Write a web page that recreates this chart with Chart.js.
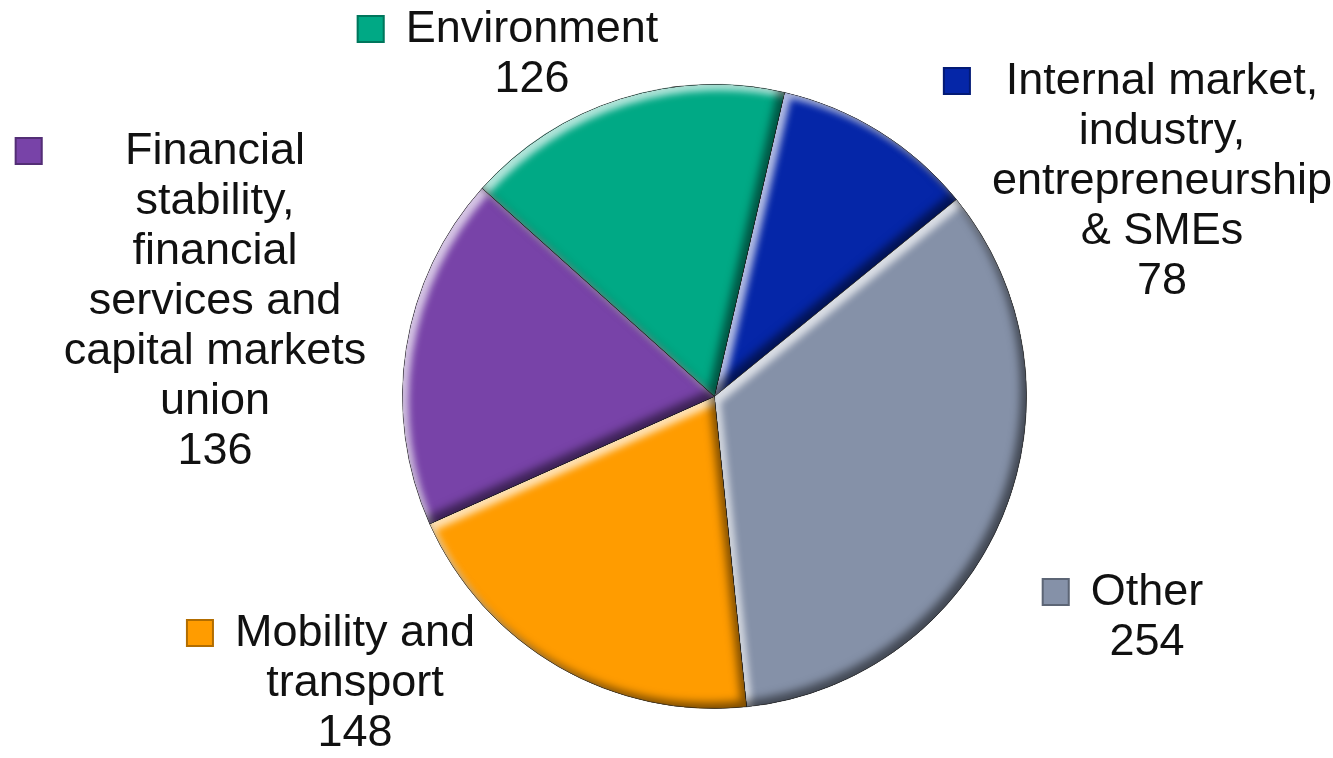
<!DOCTYPE html>
<html>
<head>
<meta charset="utf-8">
<script src="https://cdn.jsdelivr.net/npm/chart.js@4"></script>
<style>
  html, body { margin: 0; padding: 0; background: #fff; }
  #wrap { width: 1333px; height: 758px; }
</style>
</head>
<body>
<div id="wrap"><canvas id="pieChart" width="1333" height="758"></canvas></div>
<script>
// data, in drawing order (clockwise from the top)
const categories = [
    ['Internal market,', 'industry,', 'entrepreneurship', '& SMEs'],
    ['Other'],
    ['Mobility and', 'transport'],
    ['Financial', 'stability,', 'financial', 'services and', 'capital markets', 'union'],
    ['Environment']
];
const values = [78, 254, 148, 136, 126];
const colors = ['#0526a8', '#8591a8', '#ff9c00', '#7843a8', '#00a985'];

// where each text block sits: centre x, first line centre y
const labelSpots = [
    [1162, 82],
    [1147, 593],
    [355, 634],
    [215, 152],
    [532, 30]
];

// inner shadows give the slices their bevelled look
const bevel = {
    id: 'bevel',
    afterDatasetsDraw(chart) {
        const ctx = chart.ctx;
        chart.getDatasetMeta(0).data.forEach(function (arc) {
            const p = arc.getProps(['x', 'y', 'startAngle', 'endAngle', 'outerRadius']);
            const path = new Path2D();
            path.moveTo(p.x, p.y);
            path.arc(p.x, p.y, p.outerRadius, p.startAngle, p.endAngle);
            path.closePath();
            [['rgba(255,255,255,0.7)', 6, 7], ['rgba(0,0,0,0.5)', -6, 9]].forEach(function (s) {
                ctx.save();
                ctx.clip(path);
                const ring = new Path2D();
                ring.rect(-2000, -2000, 6000, 6000);
                ring.addPath(path);
                ctx.shadowColor = s[0];
                ctx.shadowBlur = s[2];
                ctx.shadowOffsetX = s[1];
                ctx.shadowOffsetY = s[1];
                ctx.fillStyle = '#000';
                ctx.fill(ring, 'evenodd');
                ctx.restore();
            });
        });
    }
};

// outside labels with a little colour key, like the office chart
const sliceLabels = {
    id: 'sliceLabels',
    afterDraw(chart) {
        const ctx = chart.ctx;
        const lineH = 50;
        ctx.save();
        ctx.font = '45px "Liberation Sans", Arial, sans-serif';
        ctx.textAlign = 'center';
        ctx.textBaseline = 'middle';
        chart.data.labels.forEach(function (lab, i) {
            const lines = lab.concat([String(chart.data.datasets[0].data[i])]);
            const cx = labelSpots[i][0];
            const y0 = labelSpots[i][1];
            let w = 0;
            ctx.fillStyle = '#111';
            lines.forEach(function (t) { w = Math.max(w, ctx.measureText(t).width); });
            lines.forEach(function (t, k) { ctx.fillText(t, cx, y0 + k * lineH); });

            // key square
            const size = 28;
            const kx = cx - w / 2 - 21 - size;
            const ky = y0 - 15;
            ctx.fillStyle = colors[i];
            ctx.fillRect(kx, ky, size, size);
            ctx.strokeStyle = 'rgba(0,0,0,0.3)';
            ctx.lineWidth = 2;
            ctx.strokeRect(kx + 1, ky + 1, size - 2, size - 2);
        });
        ctx.restore();
    }
};

const config = {
    type: 'pie',
    data: {
        labels: categories,
        datasets: [{
            data: values,
            backgroundColor: colors,
            borderColor: 'rgba(40, 40, 40, 0.45)',
            borderWidth: 1
        }]
    },
    options: {
        responsive: false,
        animation: false,
        rotation: 13,
        layout: { padding: { left: 402, right: 306, top: 84, bottom: 49 } },
        plugins: {
            legend: { display: false },
            tooltip: { enabled: false }
        }
    },
    plugins: [bevel, sliceLabels]
};

new Chart(document.getElementById('pieChart'), config);
</script>
</body>
</html>
